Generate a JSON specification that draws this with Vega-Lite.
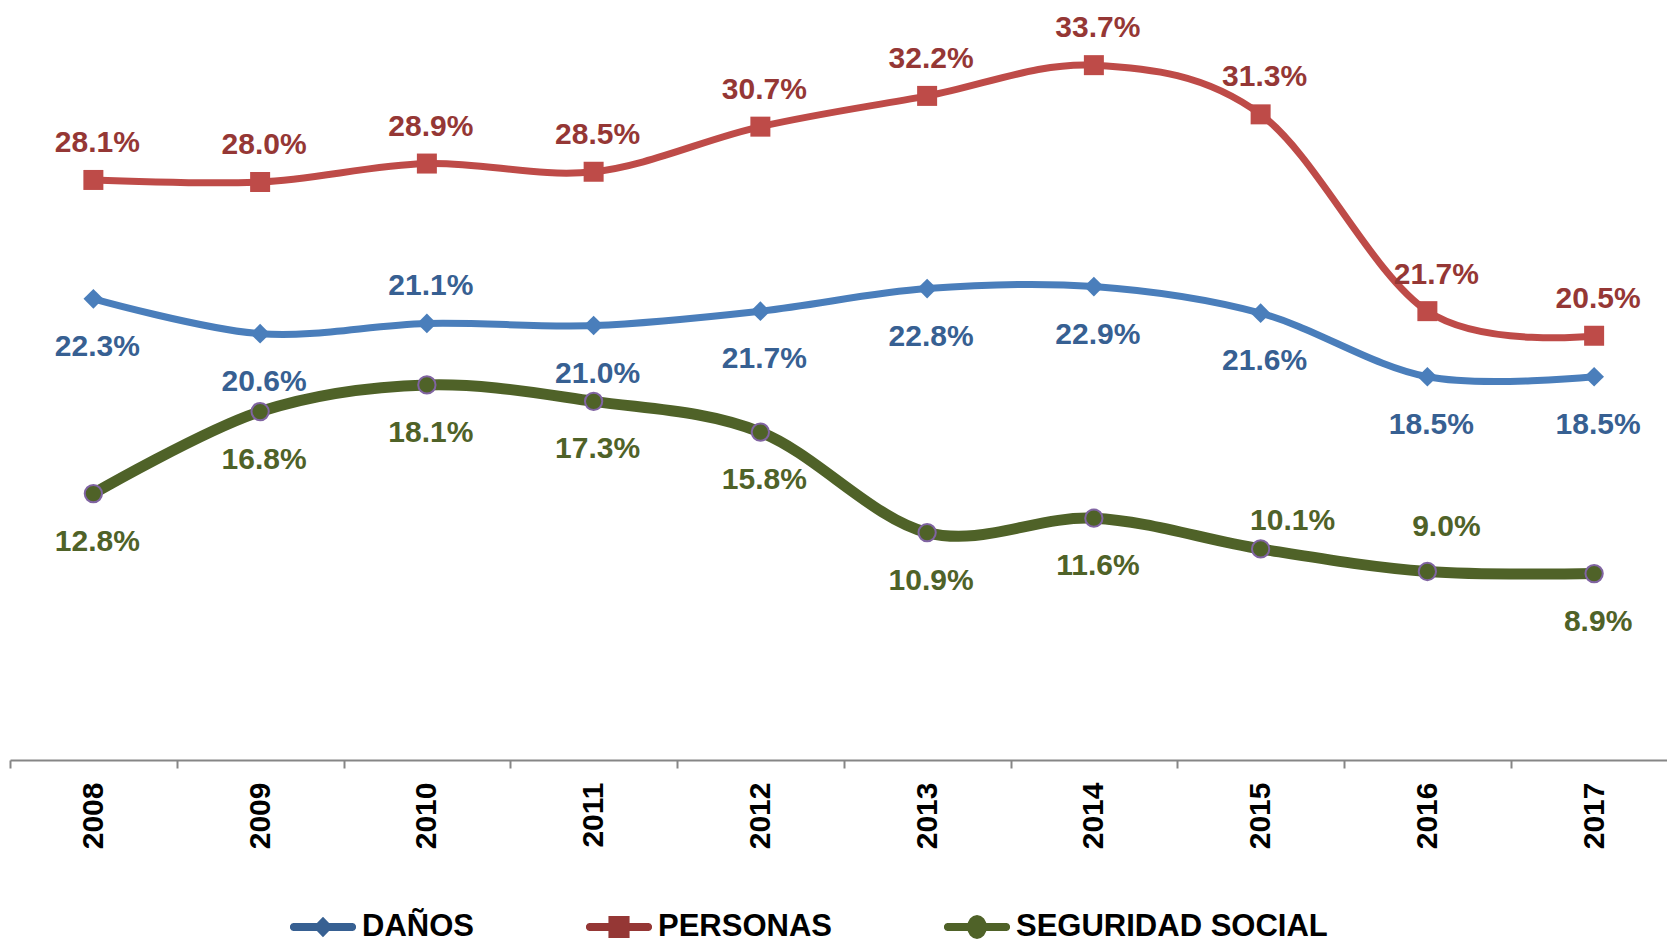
{
  "$schema": "https://vega.github.io/schema/vega-lite/v6.json",
  "autosize": "none",
  "width": 1657,
  "height": 738,
  "padding": {"left": 10, "top": 18, "right": 0, "bottom": 187},
  "background": "#ffffff",
  "config": {"view": {"stroke": null}},
  "data": {
    "values": [
      {"year": "2008", "series": "DAÑOS", "value": 0.223},
      {"year": "2009", "series": "DAÑOS", "value": 0.206},
      {"year": "2010", "series": "DAÑOS", "value": 0.211},
      {"year": "2011", "series": "DAÑOS", "value": 0.210},
      {"year": "2012", "series": "DAÑOS", "value": 0.217},
      {"year": "2013", "series": "DAÑOS", "value": 0.228},
      {"year": "2014", "series": "DAÑOS", "value": 0.229},
      {"year": "2015", "series": "DAÑOS", "value": 0.216},
      {"year": "2016", "series": "DAÑOS", "value": 0.185},
      {"year": "2017", "series": "DAÑOS", "value": 0.185},
      {"year": "2008", "series": "PERSONAS", "value": 0.281},
      {"year": "2009", "series": "PERSONAS", "value": 0.280},
      {"year": "2010", "series": "PERSONAS", "value": 0.289},
      {"year": "2011", "series": "PERSONAS", "value": 0.285},
      {"year": "2012", "series": "PERSONAS", "value": 0.307},
      {"year": "2013", "series": "PERSONAS", "value": 0.322},
      {"year": "2014", "series": "PERSONAS", "value": 0.337},
      {"year": "2015", "series": "PERSONAS", "value": 0.313},
      {"year": "2016", "series": "PERSONAS", "value": 0.217},
      {"year": "2017", "series": "PERSONAS", "value": 0.205},
      {"year": "2008", "series": "SEGURIDAD SOCIAL", "value": 0.128},
      {"year": "2009", "series": "SEGURIDAD SOCIAL", "value": 0.168},
      {"year": "2010", "series": "SEGURIDAD SOCIAL", "value": 0.181},
      {"year": "2011", "series": "SEGURIDAD SOCIAL", "value": 0.173},
      {"year": "2012", "series": "SEGURIDAD SOCIAL", "value": 0.158},
      {"year": "2013", "series": "SEGURIDAD SOCIAL", "value": 0.109},
      {"year": "2014", "series": "SEGURIDAD SOCIAL", "value": 0.116},
      {"year": "2015", "series": "SEGURIDAD SOCIAL", "value": 0.101},
      {"year": "2016", "series": "SEGURIDAD SOCIAL", "value": 0.090},
      {"year": "2017", "series": "SEGURIDAD SOCIAL", "value": 0.089}
    ]
  },
  "encoding": {
    "x": {
      "field": "year",
      "type": "ordinal",
      "scale": {"type": "band", "paddingInner": 0, "paddingOuter": 0, "range": [0, 1667.5]},
      "axis": {
        "title": null,
        "offset": 4,
        "domainColor": "#868686",
        "domainWidth": 2,
        "tickColor": "#868686",
        "tickWidth": 2,
        "tickSize": 8,
        "tickBand": "extent",
        "labelAngle": 270,
        "labelFont": "Liberation Sans",
        "labelFontSize": 30,
        "labelFontWeight": "bold",
        "labelColor": "#000000",
        "labelPadding": 14,
        "grid": false
      }
    },
    "y": {
      "field": "value",
      "type": "quantitative",
      "scale": {"domain": [0, 0.36], "nice": false, "zero": true},
      "axis": null
    }
  },
  "layer": [
    {
      "transform": [{"filter": "datum.series !== 'SEGURIDAD SOCIAL'"}],
      "mark": {"type": "line", "interpolate": "cardinal", "tension": 0, "strokeWidth": 7},
      "encoding": {
        "color": {
          "field": "series",
          "type": "nominal",
          "scale": {"domain": ["DAÑOS", "PERSONAS", "SEGURIDAD SOCIAL"], "range": ["#4A7EBB", "#BE4B48", "#4F6228"]},
          "legend": {
            "orient": "none",
            "legendX": 280,
            "legendY": 876,
            "direction": "horizontal",
            "title": null,
            "padding": 0,
            "symbolSize": 4356,
            "symbolType": "circle",
            "symbolStrokeWidth": 0,
            "columnPadding": 112,
            "labelOffset": 6,
            "labelFont": "Liberation Sans",
            "labelFontSize": 31,
            "labelFontWeight": "bold",
            "labelColor": "#000000",
            "labelLimit": 600,
            "encode": {
              "symbols": {
                "update": {
                  "shape": {"signal": "datum.value === 'DAÑOS' ? 'M-0.9,-0.12L0.9,-0.12L0.96,-0.1L1,-0.04L1,0.04L0.96,0.1L0.9,0.12L-0.9,0.12L-0.96,0.1L-1,0.04L-1,-0.04L-0.96,-0.1Z M0,-0.31L0.3,0L0,0.31L-0.3,0Z' : datum.value === 'PERSONAS' ? 'M-0.9,-0.12L0.9,-0.12L0.96,-0.1L1,-0.04L1,0.04L0.96,0.1L0.9,0.12L-0.9,0.12L-0.96,0.1L-1,0.04L-1,-0.04L-0.96,-0.1Z M-0.32,-0.33L0.32,-0.33L0.32,0.33L-0.32,0.33Z' : 'M-0.9,-0.12L0.9,-0.12L0.96,-0.1L1,-0.04L1,0.04L0.96,0.1L0.9,0.12L-0.9,0.12L-0.96,0.1L-1,0.04L-1,-0.04L-0.96,-0.1Z M0.3,0L0.277,0.138L0.212,0.255L0.115,0.333L0,0.36L-0.115,0.333L-0.212,0.255L-0.277,0.138L-0.3,0L-0.277,-0.138L-0.212,-0.255L-0.115,-0.333L0,-0.36L0.115,-0.333L0.212,-0.255L0.277,-0.138Z'"},
                  "fill": {"signal": "datum.value === 'DAÑOS' ? '#4A7EBB' : datum.value === 'PERSONAS' ? '#BE4B48' : '#4F6228'"},
                  "stroke": {"value": "transparent"},
                  "strokeWidth": {"value": 0},
                  "opacity": {"value": 1},
                  "size": {"value": 4356}
                }
              }
            }
          }
        }
      }
    },
    {
      "transform": [{"filter": "datum.series === 'SEGURIDAD SOCIAL'"}],
      "mark": {"type": "line", "interpolate": "cardinal", "tension": 0, "strokeWidth": 11, "color": "#4F6228"},
      "encoding": {}
    },
    {
      "transform": [{"filter": "datum.series === 'DAÑOS'"}],
      "mark": {"type": "point", "shape": "diamond", "filled": true, "opacity": 1, "size": 390, "color": "#4A7EBB"},
      "encoding": {}
    },
    {
      "transform": [{"filter": "datum.series === 'PERSONAS'"}],
      "mark": {"type": "point", "shape": "square", "filled": true, "opacity": 1, "size": 400, "color": "#BE4B48"},
      "encoding": {}
    },
    {
      "transform": [{"filter": "datum.series === 'SEGURIDAD SOCIAL'"}],
      "mark": {"type": "point", "shape": "circle", "filled": true, "opacity": 1, "size": 300, "fill": "#4F6228", "stroke": "#8064A2", "strokeWidth": 2},
      "encoding": {}
    },
    {
      "transform": [{"filter": "(datum.series === 'PERSONAS' && datum.year !== '2016') || (datum.series === 'DAÑOS' && datum.year === '2010')"}],
      "mark": {"type": "text", "font": "Liberation Sans", "fontSize": 30, "fontWeight": "bold", "align": "center", "baseline": "middle", "dx": 4, "dy": -37},
      "encoding": {
        "text": {"field": "value", "type": "quantitative", "format": ".1%"},
        "fill": {"field": "series", "type": "nominal", "scale": {"domain": ["DAÑOS", "PERSONAS", "SEGURIDAD SOCIAL"], "range": ["#376092", "#953735", "#4F6228"]}, "legend": null}
      }
    },
    {
      "transform": [{"filter": "(datum.series === 'DAÑOS' && datum.year !== '2010') || (datum.series === 'SEGURIDAD SOCIAL' && datum.year !== '2015' && datum.year !== '2016')"}],
      "mark": {"type": "text", "font": "Liberation Sans", "fontSize": 30, "fontWeight": "bold", "align": "center", "baseline": "middle", "dx": 4, "dy": 48},
      "encoding": {
        "text": {"field": "value", "type": "quantitative", "format": ".1%"},
        "fill": {"field": "series", "type": "nominal", "legend": null}
      }
    },
    {
      "transform": [{"filter": "datum.series === 'PERSONAS' && datum.year === '2016'"}],
      "mark": {"type": "text", "font": "Liberation Sans", "fontSize": 30, "fontWeight": "bold", "align": "center", "baseline": "middle", "dx": 9, "dy": -36},
      "encoding": {
        "text": {"field": "value", "type": "quantitative", "format": ".1%"},
        "fill": {"field": "series", "type": "nominal", "legend": null}
      }
    },
    {
      "transform": [{"filter": "datum.series === 'SEGURIDAD SOCIAL' && datum.year === '2015'"}],
      "mark": {"type": "text", "font": "Liberation Sans", "fontSize": 30, "fontWeight": "bold", "align": "center", "baseline": "middle", "dx": 32, "dy": -28},
      "encoding": {
        "text": {"field": "value", "type": "quantitative", "format": ".1%"},
        "fill": {"field": "series", "type": "nominal", "legend": null}
      }
    },
    {
      "transform": [{"filter": "datum.series === 'SEGURIDAD SOCIAL' && datum.year === '2016'"}],
      "mark": {"type": "text", "font": "Liberation Sans", "fontSize": 30, "fontWeight": "bold", "align": "center", "baseline": "middle", "dx": 19, "dy": -45},
      "encoding": {
        "text": {"field": "value", "type": "quantitative", "format": ".1%"},
        "fill": {"field": "series", "type": "nominal", "legend": null}
      }
    }
  ]
}
